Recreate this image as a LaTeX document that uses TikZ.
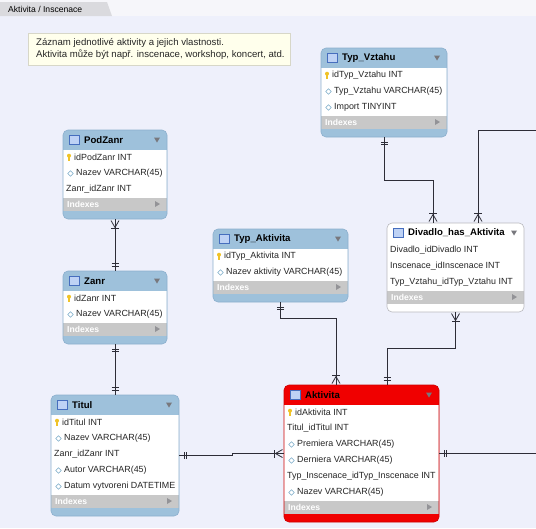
\documentclass[tikz,border=0pt]{standalone}
\usepackage{fontspec}
\setmainfont{Liberation Sans}
\usetikzlibrary{calc}
\definecolor{bg}{RGB}{238,240,251}
\definecolor{topband}{RGB}{246,246,250}
\definecolor{tabgray}{RGB}{218,218,222}
\definecolor{hdrblue}{RGB}{158,193,219}
\definecolor{hdrborder}{RGB}{140,175,205}
\definecolor{idxgray}{RGB}{200,200,200}
\definecolor{arrowgray}{RGB}{120,120,125}
\definecolor{aktred}{RGB}{240,0,0}
\definecolor{plainborder}{RGB}{185,185,190}
\definecolor{iconblue}{RGB}{70,110,190}
\definecolor{iconfill}{RGB}{190,210,245}
\definecolor{keyyellow}{RGB}{240,195,40}
\definecolor{diamondblue}{RGB}{120,170,200}
\definecolor{notefill}{RGB}{255,255,236}
\definecolor{noteborder}{RGB}{215,215,200}
\definecolor{connline}{RGB}{45,45,55}
\newcommand\hdrfont{\bfseries\fontsize{9.6}{10}\selectfont}
\newcommand\idxfont{\bfseries\fontsize{8.6}{9}\selectfont}
\newcommand\dbtable[8]{%
  \pgfmathsetmacro\tbx{#2}\pgfmathsetmacro\tby{#3}\pgfmathsetmacro\tbw{#4}%
  \pgfmathsetmacro\tbr{\tbx+\tbw}%
  \pgfmathsetmacro\tbh{\tby+19.5}%
  \pgfmathsetmacro\tbi{\tbh+16*#5}%
  \pgfmathsetmacro\tbj{\tbi+13}%
  \pgfmathsetmacro\tbb{\tbj+8.5}%
  \pgfmathsetmacro\tbht{\tbb-\tby}%
  \fill[#7, rounded corners=5pt] (\tbx,\tby) rectangle (\tbr,\tbb);
  \fill[white] (\tbx,\tbh) rectangle (\tbr,\tbi);
  \fill[idxgray] (\tbx,\tbi) rectangle (\tbr,\tbj);
  \node[draw=#8, line width=0.6pt, rounded corners=5pt, inner sep=0pt, outer sep=0pt,
        minimum width=#4pt, minimum height=\tbht pt, anchor=north west] (#1) at (\tbx,\tby) {};
  \draw[iconblue, fill=iconfill, line width=0.6pt] (\tbx+6,\tby+5) rectangle (\tbx+16,\tby+14.5);
  \draw[iconblue, line width=1.2pt] (\tbx+6,\tby+5.6) -- (\tbx+16,\tby+5.6);
  \node[anchor=west, font=\hdrfont, inner sep=0pt] at (\tbx+21,\tby+10) {#6};
  \fill[arrowgray] (\tbr-13,\tby+7.5) -- (\tbr-7,\tby+7.5) -- (\tbr-10,\tby+12.5) -- cycle;
  \node[anchor=west, text=white, font=\idxfont, inner sep=0pt] at (\tbx+4,\tbi+6.5) {Indexes};
  \fill[arrowgray!80] (\tbr-12,\tbi+3.5) -- (\tbr-7,\tbi+6.5) -- (\tbr-12,\tbi+9.5) -- cycle;
}
\newcommand\krow[2]{\pgfmathsetmacro\rowy{\tbh+8+16*(#1-1)}%
  \fill[keyyellow] (\tbx+6,\rowy-1.8) circle (2pt);
  \fill[keyyellow] (\tbx+5.3,\rowy-1) rectangle (\tbx+6.7,\rowy+3.2);
  \node[rowtext] at (\tbx+10,\rowy) {#2};}
\newcommand\drow[2]{\pgfmathsetmacro\rowy{\tbh+8+16*(#1-1)}%
  \draw[diamondblue, line width=0.5pt] (\tbx+7.5,\rowy-2.8) -- (\tbx+10.3,\rowy) -- (\tbx+7.5,\rowy+2.8) -- (\tbx+4.7,\rowy) -- cycle;
  \node[rowtext] at (\tbx+12,\rowy) {#2};}
\newcommand\nrow[2]{\pgfmathsetmacro\rowy{\tbh+8+16*(#1-1)}%
  \node[rowtext] at (\tbx+2,\rowy) {#2};}
\tikzset{
  rowtext/.style={anchor=west, inner sep=1pt, font=\fontsize{8.9}{9}\selectfont, text=black!85},
  conn/.style={draw=connline, line width=0.8pt},
  crow/.pic={\draw[conn] (1.5,-4) -- (8.5,0) -- (1.5,4); \draw[conn] (1.5,0) -- (8.5,0); \draw[conn] (9.5,-4) -- (9.5,4);},
  onemark/.pic={\draw[conn] (5,-3.5) -- (5,3.5); \draw[conn] (7.5,-3.5) -- (7.5,3.5);}
}
\begin{document}
\begin{tikzpicture}[x=1pt,y=-1pt]
\useasboundingbox (0,0) rectangle (536,528);
\fill[bg] (0,0) rectangle (536,528);
\fill[topband] (0,0) rectangle (536,16);
\fill[tabgray] (0,2) -- (107,2) -- (112,16) -- (0,16) -- cycle;
\node[anchor=west, inner sep=0pt, font=\fontsize{8.6}{9}\selectfont] (tab) at (8,9) {Aktivita / Inscenace};
% note
\node[draw=noteborder, fill=notefill, line width=0.5pt, anchor=north west, minimum width=262pt, minimum height=32pt, inner sep=0pt] (note) at (28,33) {};
\node[anchor=west, align=left, inner sep=0pt, font=\fontsize{9.6}{12}\selectfont, text=black!85] (notetext) at (36,49)
  {Záznam jednotlivé aktivity a jejich vlastnosti.\\Aktivita může být např. inscenace, workshop, koncert, atd.};
% tables
\dbtable{typv}{321}{48}{126}{3}{Typ\_Vztahu}{hdrblue}{hdrborder}
\krow{1}{idTyp\_Vztahu INT}
\drow{2}{Typ\_Vztahu VARCHAR(45)}
\drow{3}{Import TINYINT}
\dbtable{podzanr}{63}{130}{104}{3}{PodZanr}{hdrblue}{hdrborder}
\krow{1}{idPodZanr INT}
\drow{2}{Nazev VARCHAR(45)}
\nrow{3}{Zanr\_idZanr INT}
\dbtable{zanr}{63}{271}{104}{2}{Zanr}{hdrblue}{hdrborder}
\krow{1}{idZanr INT}
\drow{2}{Nazev VARCHAR(45)}
\dbtable{titul}{51}{395}{128}{5}{Titul}{hdrblue}{hdrborder}
\krow{1}{idTitul INT}
\drow{2}{Nazev VARCHAR(45)}
\nrow{3}{Zanr\_idZanr INT}
\drow{4}{Autor VARCHAR(45)}
\drow{5}{Datum vytvoreni DATETIME}
\dbtable{typa}{213}{229}{135}{2}{Typ\_Aktivita}{hdrblue}{hdrborder}
\krow{1}{idTyp\_Aktivita INT}
\drow{2}{Nazev aktivity VARCHAR(45)}
\dbtable{dha}{387}{223}{137}{3}{Divadlo\_has\_Aktivita}{white}{plainborder}
\nrow{1}{Divadlo\_idDivadlo INT}
\nrow{2}{Inscenace\_idInscenace INT}
\nrow{3}{Typ\_Vztahu\_idTyp\_Vztahu INT}
\dbtable{akt}{284}{385}{155}{6}{Aktivita}{aktred}{aktred!85!black}
\krow{1}{idAktivita INT}
\nrow{2}{Titul\_idTitul INT}
\drow{3}{Premiera VARCHAR(45)}
\drow{4}{Derniera VARCHAR(45)}
\nrow{5}{Typ\_Inscenace\_idTyp\_Inscenace INT}
\drow{6}{Nazev VARCHAR(45)}
% connectors
\coordinate (offr) at (536,130);
\coordinate (redge) at (536,0);
\draw[conn] (podzanr.south) -- (zanr.north);
\pic[rotate=-90] at (podzanr.south) {crow};
\pic[rotate=90] at (zanr.north) {onemark};
\draw[conn] (zanr.south) -- (titul.north);
\pic[rotate=-90] at (zanr.south) {onemark};
\pic[rotate=90] at (titul.north) {onemark};
\draw[conn] (typv.south) |- ($(dha.north)+(-22.5,-43)$) -- ([xshift=-22.5pt]dha.north);
\pic[rotate=-90] at (typv.south) {onemark};
\pic[rotate=90] at ([xshift=-22.5pt]dha.north) {crow};
\draw[conn] (offr) -| ([xshift=22.5pt]dha.north);
\pic[rotate=90] at ([xshift=22.5pt]dha.north) {crow};
\draw[conn] (dha.south) |- ($(akt.north)+(25.5,-37)$) -- ([xshift=25.5pt]akt.north);
\pic[rotate=-90] at (dha.south) {crow};
\pic[rotate=90] at ([xshift=25.5pt]akt.north) {onemark};
\draw[conn] (typa.south) |- ($(akt.north)+(-25.5,-67)$) -- ([xshift=-25.5pt]akt.north);
\pic[rotate=-90] at (typa.south) {onemark};
\pic[rotate=90] at ([xshift=-25.5pt]akt.north) {crow};
\draw[conn] (titul.east) -- ++(53,0) |- (akt.west);
\pic at (titul.east) {onemark};
\pic[rotate=180] at (akt.west) {crow};
\draw[conn] (akt.east) -- (akt.east -| redge);
\pic at (akt.east) {onemark};
\end{tikzpicture}
\end{document}
